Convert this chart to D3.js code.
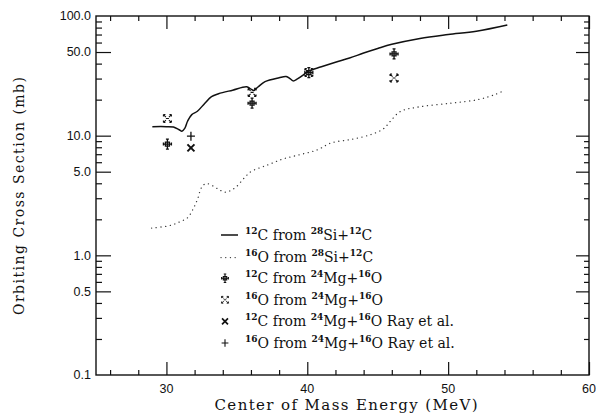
<!DOCTYPE html>
<html>
<head>
<meta charset="utf-8">
<style>
body { margin: 0; background: #fff; }
</style>
</head>
<body>
<script src="https://cdn.jsdelivr.net/npm/d3@7"></script>
<script>

// 12C from 28Si+12C (solid)
var solidE = [29.0, 30.0, 30.5, 30.9, 31.1, 31.3, 31.5, 31.8, 32.2, 32.7, 33.2, 33.7, 34.7, 35.7, 36.0, 36.2, 36.5, 37.0, 38.0, 38.5, 38.8, 39.0, 39.3, 39.7, 40.0, 41.0, 42.0, 43.0, 44.0, 45.0, 46.0, 48.0, 50.0, 52.0, 54.2];
var solidS = [11.9, 11.9, 11.8, 11.2, 10.9, 11.5, 13.2, 15.0, 16.0, 18.5, 21.2, 22.4, 24.0, 25.6, 24.5, 23.9, 25.5, 28.3, 30.5, 31.2, 29.8, 28.7, 29.8, 32.0, 34.3, 37.6, 41.0, 44.5, 49.0, 53.5, 58.0, 65.0, 70.0, 74.5, 84.0];

// 16O from 28Si+12C (dotted)
var dotE = [28.95, 30.3, 31.0, 31.5, 31.9, 32.2, 32.5, 32.8, 33.3, 33.8, 34.2, 34.6, 35.0, 35.5, 36.0, 37.2, 38.3, 39.5, 40.7, 41.7, 43.1, 44.5, 45.4, 45.9, 46.6, 47.8, 50.2, 52.1, 53.3, 54.0];
var dotS = [1.69, 1.78, 1.92, 2.06, 2.45, 2.93, 3.7, 3.98, 3.8, 3.5, 3.37, 3.5, 3.78, 4.4, 5.0, 5.7, 6.4, 6.95, 7.6, 8.7, 9.3, 10.2, 11.4, 13.2, 15.9, 17.3, 18.7, 20.0, 22.0, 23.9];

// measured points
var cMgE = [30.07, 36.08, 40.11, 46.16];
var cMgS = [8.5, 18.7, 33.7, 48.2];
var oMgE = [30.07, 36.08, 40.11, 46.16];
var oMgS = [13.9, 23.0, 33.7, 30.3];
var cRayE = [31.74];
var cRayS = [7.9];
var oRayE = [31.74];
var oRayS = [9.9];

var yTickVals = [0.1, 0.5, 1, 5, 10, 50, 100];
var yTickLabels = ["0.1", "0.5", "1.0", "5.0", "10.0", "50.0", "100.0"];
var xTickVals = [30, 40, 50, 60];

var W = 596, H = 419;
var pL = 96, pR = 589, pT = 16, pB = 375;

var x = d3.scaleLinear().domain([25, 60]).range([pL, pR]);
var y = d3.scaleLog().domain([0.1, 100]).range([pB, pT]);

var svg = d3.select("body").append("svg")
	.attr("width", W)
	.attr("height", H)
	.style("font-family", "DejaVu Serif, serif");

var ink = "#111";

// minor tick values
var xMinor = d3.range(26, 60, 2).filter(v => v % 10 != 0);
var yMinor = [];
[0.1, 1, 10].forEach(dec => {
	for (var k = 2; k <= 9; k++) if (k != 5) yMinor.push(dec * k);
});
var yMajor = [0.5, 1, 5, 10, 50];

// frame
svg.append("rect")
	.attr("x", pL).attr("y", pT)
	.attr("width", pR - pL).attr("height", pB - pT)
	.attr("fill", "none").attr("stroke", ink).attr("stroke-width", 1.4);

function tickG(axisFn, scale, vals, size, tr) {
	svg.append("g")
		.attr("transform", tr)
		.call(axisFn(scale).tickValues(vals).tickSize(size).tickFormat(""))
		.call(g => g.select(".domain").remove())
		.selectAll("line").attr("stroke", ink).attr("stroke-width", 1.2);
}

// ticks pointing inward on all four sides
tickG(d3.axisBottom, x, xTickVals, -13, "translate(0," + pB + ")");
tickG(d3.axisBottom, x, xMinor, -5, "translate(0," + pB + ")");
tickG(d3.axisTop, x, xTickVals, -13, "translate(0," + pT + ")");
tickG(d3.axisTop, x, xMinor, -5, "translate(0," + pT + ")");
tickG(d3.axisLeft, y, yMajor, -15, "translate(" + pL + ",0)");
tickG(d3.axisLeft, y, yMinor, -6, "translate(" + pL + ",0)");
tickG(d3.axisRight, y, yMajor, -13, "translate(" + pR + ",0)");
tickG(d3.axisRight, y, yMinor, -5, "translate(" + pR + ",0)");

// tick labels
svg.append("g").selectAll("text")
	.data(yTickVals)
	.enter().append("text")
	.attr("x", pL - 5)
	.attr("y", d => y(d))
	.attr("dy", "0.35em")
	.attr("text-anchor", "end")
	.attr("font-family", "Liberation Sans, Arial, sans-serif")
	.attr("font-size", 12.5)
	.attr("fill", ink)
	.text((d, i) => yTickLabels[i]);

svg.append("g").selectAll("text")
	.data(xTickVals)
	.enter().append("text")
	.attr("x", d => x(d))
	.attr("y", pB + 18)
	.attr("text-anchor", "middle")
	.attr("font-family", "Liberation Sans, Arial, sans-serif")
	.attr("font-size", 12.5)
	.attr("fill", ink)
	.text(d => d);

// axis titles
svg.append("text")
	.attr("x", 346).attr("y", 410)
	.attr("text-anchor", "middle")
	.attr("font-size", 15)
	.attr("textLength", 263)
	.attr("lengthAdjust", "spacing")
	.attr("fill", ink)
	.text("Center of Mass Energy (MeV)");

svg.append("text")
	.attr("transform", "translate(24,196) rotate(-90)")
	.attr("text-anchor", "middle")
	.attr("font-size", 14)
	.attr("textLength", 238)
	.attr("lengthAdjust", "spacing")
	.attr("fill", ink)
	.text("Orbiting Cross Section (mb)");

// curves
var line = d3.line()
	.x(d => x(d[0]))
	.y(d => y(d[1]))
	.curve(d3.curveCatmullRom);

svg.append("path")
	.datum(d3.zip(solidE, solidS))
	.attr("fill", "none")
	.attr("stroke", ink)
	.attr("stroke-width", 1.5)
	.attr("d", line);

svg.append("path")
	.datum(d3.zip(dotE, dotS))
	.attr("fill", "none")
	.attr("stroke", "#333")
	.attr("stroke-width", 1.3)
	.attr("stroke-linecap", "round")
	.attr("stroke-dasharray", "0.1,4.6")
	.attr("d", line);

// marker shapes
var sym = {
	cMg: "M-4,0H4M0,-5V5M-4,-1.5V1.5M4,-1.5V1.5M-1.5,-5H1.5M-1.5,5H1.5M-2,-2H2V2H-2Z",
	oMg: "M-4,-4L-1.5,-1.5M4,-4L1.5,-1.5M-4,4L-1.5,1.5M4,4L1.5,1.5M-4,-4H-2M-4,-4V-2M4,-4H2M4,-4V-2M-4,4H-2M-4,4V2M4,4H2M4,4V2M-1.5,0H1.5",
	cRay: "M-3.5,-3.5L3.5,3.5M-3.5,3.5L3.5,-3.5",
	oRay: "M-4,0H4M0,-4.5V4.5"
};
var symW = { cMg: 1.3, oMg: 1.1, cRay: 2, oRay: 1.3 };

function drawPts(es, ss, key) {
	svg.append("g").selectAll("path")
		.data(d3.zip(es, ss))
		.enter().append("path")
		.attr("transform", d => "translate(" + x(d[0]) + "," + y(d[1]) + ")")
		.attr("d", sym[key])
		.attr("fill", "none")
		.attr("stroke", ink)
		.attr("stroke-width", symW[key]);
}
drawPts(cMgE, cMgS, "cMg");
drawPts(oMgE, oMgS, "oMg");
drawPts(cRayE, cRayS, "cRay");
drawPts(oRayE, oRayS, "oRay");

// legend
var legRows = [
	{ key: "solid", parts: [["12", 1], ["C from ", 0], ["28", 1], ["Si+", 0], ["12", 1], ["C", 0]] },
	{ key: "dot", parts: [["16", 1], ["O from ", 0], ["28", 1], ["Si+", 0], ["12", 1], ["C", 0]] },
	{ key: "cMg", parts: [["12", 1], ["C from ", 0], ["24", 1], ["Mg+", 0], ["16", 1], ["O", 0]] },
	{ key: "oMg", parts: [["16", 1], ["O from ", 0], ["24", 1], ["Mg+", 0], ["16", 1], ["O", 0]] },
	{ key: "cRay", parts: [["12", 1], ["C from ", 0], ["24", 1], ["Mg+", 0], ["16", 1], ["O Ray et al.", 0]] },
	{ key: "oRay", parts: [["16", 1], ["O from ", 0], ["24", 1], ["Mg+", 0], ["16", 1], ["O Ray et al.", 0]] }
];

var legX = 229, legY0 = 235, legDy = 21.6;
legRows.forEach((r, i) => {
	var cy = legY0 + i * legDy;
	var g = svg.append("g");
	if (r.key == "solid") {
		g.append("line").attr("x1", legX - 8).attr("x2", legX + 9)
			.attr("y1", cy).attr("y2", cy)
			.attr("stroke", ink).attr("stroke-width", 1.5);
	} else if (r.key == "dot") {
		g.append("line").attr("x1", legX - 8).attr("x2", legX + 9)
			.attr("y1", cy + 1).attr("y2", cy + 1)
			.attr("stroke", "#333").attr("stroke-width", 1.3)
			.attr("stroke-linecap", "round")
			.attr("stroke-dasharray", "0.1,4.6");
	} else {
		g.append("path")
			.attr("transform", "translate(" + (legX - 4) + "," + cy + ") scale(0.85)")
			.attr("d", sym[r.key])
			.attr("fill", "none")
			.attr("stroke", ink)
			.attr("stroke-width", symW[r.key]);
	}
	var t = g.append("text")
		.attr("x", legX + 16)
		.attr("y", cy + 5)
		.attr("font-size", 14)
		.attr("fill", ink);
	r.parts.forEach(p => {
		if (p[1]) {
			t.append("tspan").attr("dy", -6).attr("font-size", 9).attr("font-weight", "bold").text(p[0]);
		} else {
			t.append("tspan").attr("dy", 6).text(p[0]);
		}
	});
});

</script>
</body>
</html>
